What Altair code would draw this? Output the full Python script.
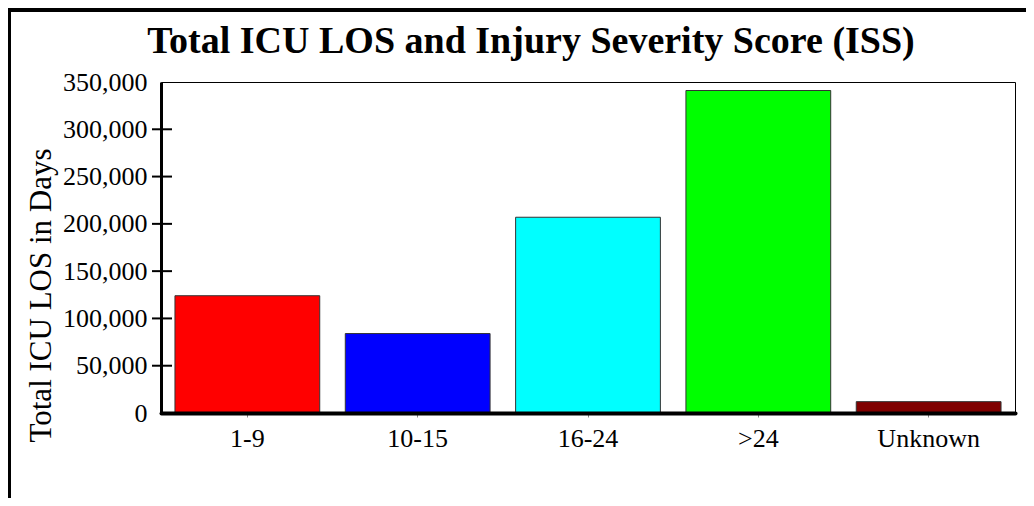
import altair as alt
import pandas as pd

categories = ["1-9", "10-15", "16-24", ">24", "Unknown"]
values = [124000, 84000, 207000, 341000, 12000]
colors = ["#FF0000", "#0000FF", "#00FFFF", "#00FF00", "#800000"]
y_ticks = [0, 50000, 100000, 150000, 200000, 250000, 300000, 350000]
inner_ticks = [50000, 100000, 150000, 200000, 250000, 300000]
title_text = "Total ICU LOS and Injury Severity Score (ISS)"

df = pd.DataFrame({"cat": categories, "val": values})
tick_df = pd.DataFrame({"v": inner_ticks})

FONT = "Liberation Serif"
yscale = alt.Scale(domain=[0, 350000], nice=False)

bars = alt.Chart(df).mark_bar(stroke="#333333", strokeWidth=1).encode(
    x=alt.X(
        "cat:N", sort=categories,
        scale=alt.Scale(paddingInner=0.15, paddingOuter=0.082),
        axis=alt.Axis(title=None, labelAngle=0, labelFont=FONT, labelFontSize=26,
                      labelColor="black", labelPadding=8, tickSize=4, tickColor="#888888",
                      tickWidth=1, domainColor="black", domainWidth=4, domainCap="round",
                      zindex=1),
    ),
    y=alt.Y(
        "val:Q", scale=yscale,
        axis=alt.Axis(title="Total ICU LOS in Days", values=y_ticks, format=",d", ticks=False,
                      grid=False, labelFont=FONT, labelFontSize=26, labelColor="black",
                      labelPadding=14, domainWidth=3, domainColor="black",
                      titleFont=FONT, titleFontSize=31, titleFontWeight="normal",
                      titleColor="black", titleX=-111, titleY=213, titleBaseline="alphabetic",
                      zindex=1),
    ),
    color=alt.Color("cat:N", scale=alt.Scale(domain=categories, range=colors), legend=None),
)

ticks = alt.Chart(tick_df).mark_rule(color="black", strokeWidth=2).encode(
    y=alt.Y("v:Q", scale=yscale),
    x=alt.value(-9),
    x2=alt.value(11),
)

frame = alt.Chart(alt.Data(values=[{"a": 1}])).mark_rect(
    fillOpacity=0, stroke="black", strokeWidth=4
).encode(
    x=alt.value(-152), x2=alt.value(1100), y=alt.value(-72), y2=alt.value(700)
)

title = alt.Chart(alt.Data(values=[{"t": title_text}])).mark_text(
    font=FONT, fontSize=38, fontWeight="bold", color="black", align="center", baseline="alphabetic"
).encode(
    text="t:N", x=alt.value(370), y=alt.value(-29)
)

chart = alt.layer(frame, bars, ticks, title).properties(
    width=854,
    height=331,
    autosize=alt.AutoSizeParams(type="none"),
    padding={"left": 153, "top": 74, "right": 11, "bottom": 85},
    background="white",
).configure_view(stroke="black", strokeWidth=1)

chart.save("out.html", embed_options={"renderer": "svg", "actions": False})
